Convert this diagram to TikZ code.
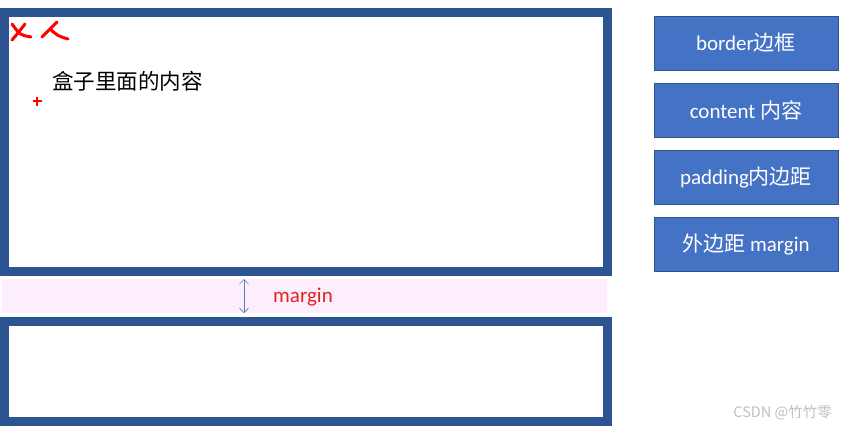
\documentclass[tikz,border=0pt]{standalone}
\usepackage{fontspec}
\setmainfont{Carlito}
\newfontfamily\cjk{Noto Sans CJK SC}
\usepackage{tikz}
\usetikzlibrary{arrows.meta, positioning}

\definecolor{boxline}{RGB}{44,85,145}
\definecolor{btnfill}{RGB}{68,114,196}
\definecolor{btnline}{RGB}{47,82,143}
\definecolor{marginpink}{RGB}{252,238,252}
\definecolor{marginred}{RGB}{228,32,32}
\definecolor{arrowblue}{RGB}{91,125,184}

\begin{document}
\begin{tikzpicture}[x=1pt, y=-1pt,
				box/.style={draw=boxline, line width=9.5pt, fill=white, inner sep=0pt, outer sep=0pt},
				btn/.style={draw=btnline, line width=1pt, fill=btnfill, text=white,
					minimum width=184pt, minimum height=54pt, inner sep=0pt,
					font=\fontsize{21}{25}\selectfont},
				scribble/.style={red, line width=3pt, line cap=round, line join=round}]
				\useasboundingbox (0,0) rectangle (844,429);
				\fill[marginpink] (2,279) rectangle (607,313);
				\node at (306,142) (upper) [box, minimum width=603pt, minimum height=259pt] {};
				\node at (306,371.5) (lower) [box, minimum width=603pt, minimum height=100pt] {};
				\node at (52,81) (content) [anchor=west, inner sep=0pt] {\fontsize{21.5}{25}\cjk 盒子里面的内容};
				\draw[scribble] (12,40) .. controls (18,33) .. (25,24);
				\draw[scribble] (12,24) .. controls (20,35) .. (31,37);
				\draw[scribble] (42,37) .. controls (50,30) .. (57,22);
				\draw[scribble] (50,29) .. controls (58,36) .. (68,39);
				\draw[red, line width=1.5pt] (32.5,101) -- (41.5,101) (37,96.5) -- (37,105.5);
				\coordinate (mtop) at (244,279);
				\coordinate (mbot) at (244,313);
				\draw[<->, >={Straight Barb[length=4.5pt, width=9pt]}, arrowblue, line width=0.7pt] (mtop) -- (mbot);
				\node at (273,297) (margin) [anchor=west, inner sep=0pt, text=marginred] {\fontsize{21}{25}\selectfont margin};
				\node at (746,43) (border) [btn] {border{\cjk 边框}};
				\node (inhalt) [btn, below=12.3pt of border] {content {\cjk 内容}};
				\node (padding) [btn, below=12.3pt of inhalt] {padding{\cjk 内边距}};
				\node (outer) [btn, below=12.3pt of padding] {{\cjk 外边距} margin};
				\node at (832,413) (mark) [anchor=east, inner sep=0pt, text=black!25] {\fontsize{14.5}{17}\cjk CSDN @竹竹零};
			\end{tikzpicture}
\end{document}
